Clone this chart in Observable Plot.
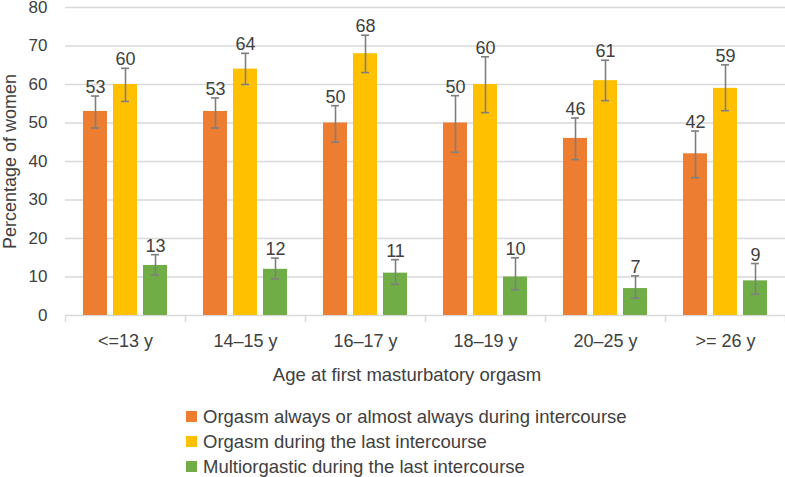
<!DOCTYPE html>
<html><head><meta charset="utf-8">
<script src="https://cdn.jsdelivr.net/npm/d3@7"></script>
<script src="https://cdn.jsdelivr.net/npm/@observablehq/plot@0.6"></script>
<style>
body{margin:0;background:#fff;font-family:"Liberation Sans",Arial,sans-serif;color:#404040}
#wrap{position:relative;width:785px;height:477px;overflow:hidden}
#chart{position:absolute;left:0;top:0}
.xtitle{position:absolute;top:365px;left:407px;transform:translateX(-50%);white-space:nowrap;font-size:18.5px;line-height:20px}
.legend{position:absolute;left:186px;top:404px}
.row{display:flex;align-items:center;height:25px;font-size:18.5px;line-height:20px;white-space:nowrap}
.sw{width:11px;height:11px;margin-right:6px;flex:none}
</style></head><body>
<div id="wrap"><div id="chart"></div>
<div class="xtitle" id="xtitle"></div>
<div class="legend" id="legend"></div>
</div>
<script>
const categories = ["<=13 y", "14\u201315 y", "16\u201317 y", "18\u201319 y", "20\u201325 y", ">= 26 y"];
const seriesKeys = ["always", "last", "multi"];
const seriesNames = [
  "Orgasm always or almost always during intercourse",
  "Orgasm during the last intercourse",
  "Multiorgastic during the last intercourse"
];
const colors = ["#ED7D31", "#FFC000", "#70AD47"];
const yTicks = [0, 10, 20, 30, 40, 50, 60, 70, 80];
const xTitle = "Age at first masturbatory orgasm";
const yTitle = "Percentage of women";

const alwaysValues = [53, 53, 50, 50, 46, 42];
const alwaysHigh   = [57.0, 56.5, 54.5, 57.1, 51.3, 47.9];
const alwaysLow    = [48.7, 48.7, 45.0, 42.4, 40.5, 35.8];

const lastValues = [60, 64, 68, 60, 61, 59];
const lastHigh   = [64.2, 68.1, 72.8, 67.2, 66.3, 65.1];
const lastLow    = [55.6, 60.0, 63.1, 52.7, 55.8, 53.2];

const multiValues = [13, 12, 11, 10, 7, 9];
const multiHigh   = [15.8, 14.9, 14.5, 15.0, 10.3, 13.5];
const multiLow    = [10.5, 9.5, 8.1, 6.7, 4.5, 5.5];

const seriesData = [
  [alwaysValues, alwaysLow, alwaysHigh],
  [lastValues, lastLow, lastHigh],
  [multiValues, multiLow, multiHigh]
];
const data = [];
categories.forEach((cat, i) => {
  seriesKeys.forEach((key, s) => {
    const [v, lo, hi] = seriesData[s];
    data.push({cat, key, value: v[i], lo: lo[i], hi: hi[i]});
  });
});

const axisGray = "#d9d9d9";
const errGray = "#7f7f7f";
const textColor = "#404040";

const chart = Plot.plot({
  width: 785,
  height: 360,
  marginTop: 7,
  marginBottom: 45,
  marginLeft: 65,
  marginRight: 0,
  style: {fontFamily: "'Liberation Sans', Arial, sans-serif", fontSize: "18px", color: textColor, background: "white", overflow: "visible"},
  fx: {domain: categories, padding: 0, label: null},
  x: {domain: seriesKeys, paddingInner: 0.213, paddingOuter: 0.574, axis: null},
  y: {domain: [0, 80]},
  color: {domain: seriesKeys, range: colors},
  marks: [
    Plot.gridY(yTicks, {stroke: axisGray, strokeOpacity: 1, strokeWidth: 1.3}),
    Plot.axisY(yTicks, {tickSize: 0, tickPadding: 18, fontSize: 17, label: null, fill: textColor}),
    Plot.axisY({ticks: [], tickSize: 0, label: yTitle, labelAnchor: "center", labelOffset: 62, labelArrow: "none", fill: textColor}),
    Plot.axisFx({anchor: "bottom", tickSize: 0, tickPadding: 19, label: null, fill: textColor}),
    Plot.frame({anchor: "left", stroke: axisGray, strokeOpacity: 1, strokeWidth: 1.3, insetTop: 308, insetBottom: -6}),
    Plot.frame({anchor: "right", stroke: axisGray, strokeOpacity: 1, strokeWidth: 1.3, insetTop: 308, insetBottom: -6}),
    Plot.barY(data, {fx: "cat", x: "key", y: "value", fill: "key"}),
    Plot.ruleX(data, {fx: "cat", x: "key", y1: "lo", y2: "hi", stroke: errGray, strokeWidth: 1.6}),
    Plot.tickY(data, {fx: "cat", x: "key", y: "hi", stroke: errGray, strokeWidth: 1.6, insetLeft: 8, insetRight: 8}),
    Plot.tickY(data, {fx: "cat", x: "key", y: "lo", stroke: errGray, strokeWidth: 1.6, insetLeft: 8, insetRight: 8}),
    Plot.text(data, {fx: "cat", x: "key", y: "hi", text: d => String(d.value), lineAnchor: "bottom", dy: -3, fill: textColor, fontSize: 18})
  ]
});
document.getElementById("chart").appendChild(chart);
document.getElementById("xtitle").textContent = xTitle;
const legend = document.getElementById("legend");
seriesNames.forEach((name, i) => {
  const row = document.createElement("div");
  row.className = "row";
  const sw = document.createElement("span");
  sw.className = "sw";
  sw.style.background = colors[i];
  const t = document.createElement("span");
  t.textContent = name;
  row.appendChild(sw);
  row.appendChild(t);
  legend.appendChild(row);
});
</script>
</body></html>
